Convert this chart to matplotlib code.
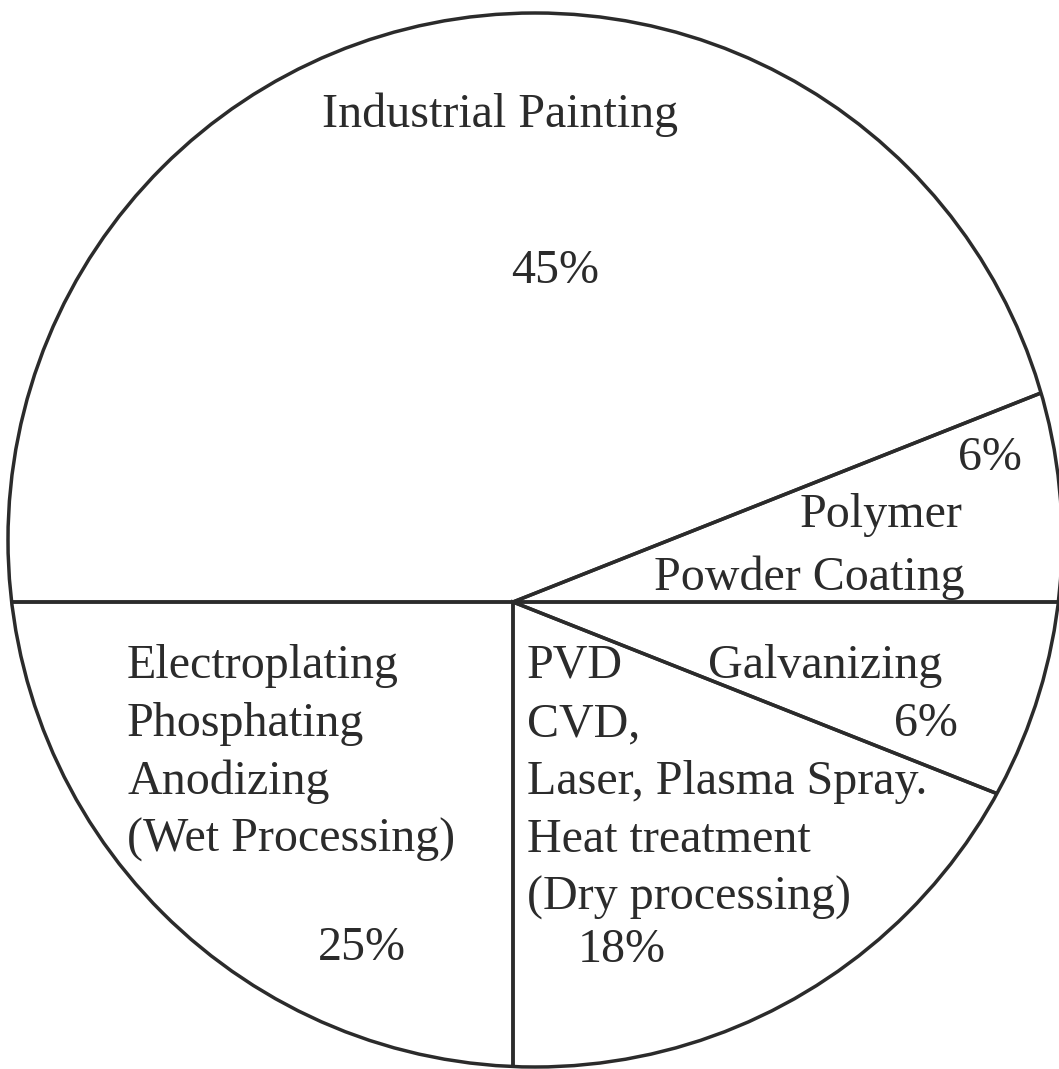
import matplotlib
matplotlib.use('Agg')
import matplotlib.pyplot as plt
from matplotlib.patches import Circle

# ------------------------------- DATA -------------------------------
# clockwise from the left horizontal spoke
categories = ['Industrial Painting', 'Polymer Powder Coating', 'Galvanizing',
              'Dry processing', 'Wet processing']
drawnShare = [44, 6, 6, 19, 25]          # share as drawn (angle of each wedge)
pctLabels = ['45%', '6%', '6%', '18%', '25%']   # percentages printed on the chart

wetLines = ['Electroplating', 'Phosphating', 'Anodizing', '(Wet Processing)']
dryLines = ['PVD', 'CVD,', 'Laser, Plasma Spray.', 'Heat treatment', '(Dry processing)']

# ------------------------------- LAYOUT -------------------------------
W, H = 1059, 1069
ink = '#2b2b2b'
lw = 2.5
fs = 34.6
font = 'Liberation Serif'

def py(y):
    # pixel row (from top) -> data y
    return H - y

def label(x, y, s, ha='left'):
    ax.text(x, py(y), s, ha=ha, va='baseline', fontsize=fs,
            family=font, color=ink)

fig = plt.figure(figsize=(W / 100, H / 100), dpi=100)
ax = fig.add_axes([0, 0, 1, 1])

vertex = (513, py(602))

wedges, _ = ax.pie(drawnShare, startangle=180, counterclock=False,
                   center=vertex, radius=800,
                   wedgeprops=dict(fill=False, edgecolor=ink, linewidth=lw))

outline = Circle((535, py(540)), 527, fill=False, edgecolor=ink, lw=lw)
ax.add_patch(outline)
# spokes stop at the rim (pie turns clipping off by default)
for w in wedges:
    w.set_clip_on(True)
    w.set_clip_path(outline)

# ------------------------------- TEXT -------------------------------
label(500, 127, categories[0], ha='center')
label(555, 283, pctLabels[0], ha='center')

label(1022, 470, pctLabels[1], ha='right')
label(962, 527, 'Polymer', ha='right')
label(965, 590, 'Powder Coating', ha='right')

label(708, 678, categories[2])
label(958, 736, pctLabels[2], ha='right')

step = 58
for i, s in enumerate(wetLines):
    label(127, 678 + i * step, s)
label(362, 960, pctLabels[4], ha='center')

for i, s in enumerate(dryLines):
    label(527, 678 + i * step, s)
label(622, 962, pctLabels[3], ha='center')

ax.set_xlim(0, W)
ax.set_ylim(0, H)
ax.set_aspect('equal')
ax.axis('off')

fig.savefig('out.png', dpi=100, facecolor='white')
